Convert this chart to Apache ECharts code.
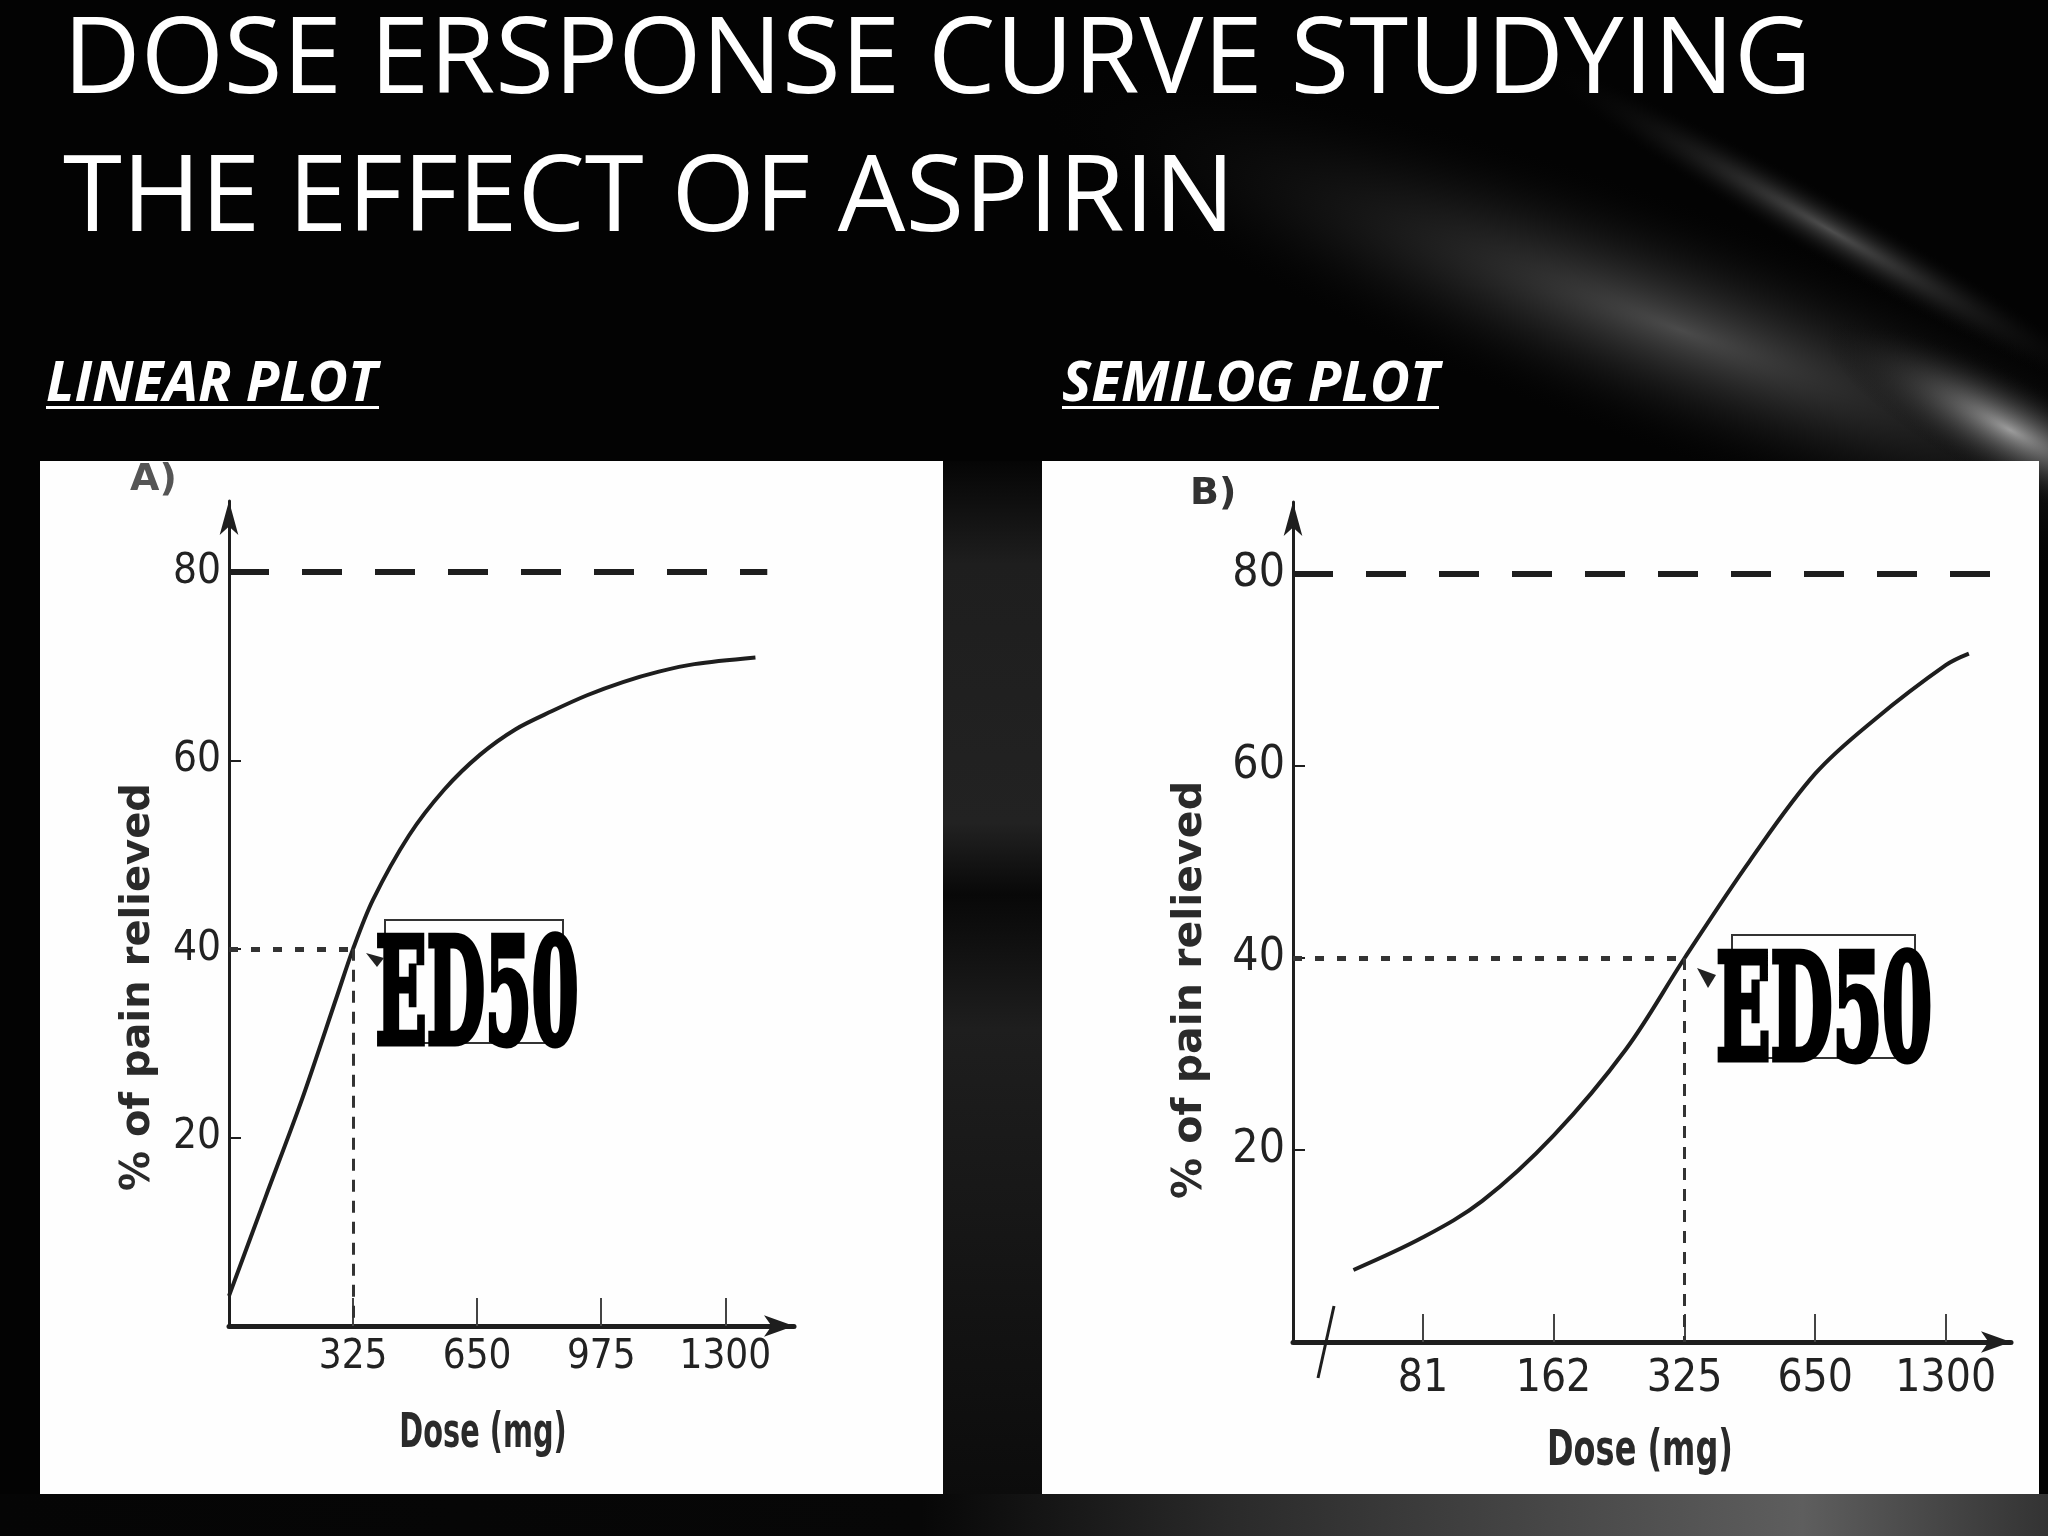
<!DOCTYPE html>
<html>
<head>
<meta charset="utf-8">
<script src="https://cdn.jsdelivr.net/npm/echarts@6/dist/echarts.min.js"></script>
<style>
  html, body { margin: 0; padding: 0; background: #000; }
  #chart { width: 2048px; height: 1536px; }
</style>
</head>
<body>
<div id="chart"></div>
<script>
// values
const linearDose = [0, 96, 190, 283, 325, 377, 471, 564, 658, 751, 845, 938, 1032, 1126, 1219, 1379];
const linearResponse = [3.2, 13.7, 23.9, 35.0, 40.0, 45.2, 52.0, 56.9, 60.6, 63.3, 65.2, 66.9, 68.3, 69.4, 70.2, 70.9];

const semilogDose = [56, 81, 111, 162, 238, 325, 459, 650, 889, 1300, 1470];
const semilogResponse = [7.5, 10.9, 14.7, 21.5, 30.5, 40, 50.1, 59.2, 64.8, 70.5, 71.7];

const linearTicks = [325, 650, 975, 1300];
const semilogTicks = [81, 162, 325, 650, 1300];
const responseTicks = [20, 40, 60, 80];

const plateau = 80;
const ed50Dose = 325;
const ed50Response = 40;
const linearPlateauEnd = 1410;
const semilogPlateauEnd = 1720;

// semilog axis: each tick is one doubling of the dose
const toLog = d => Math.log2(d / 81.25);
const fromLog = v => Math.round(81.25 * Math.pow(2, v));

const ink = '#1e1e1e';
const tickFont = "'DejaVu Sans Condensed', 'Liberation Sans', sans-serif";

let chart = echarts.init(document.getElementById('chart'));

function xAxisOf(grid, min, max, ticks, fontSize, margin, fmt) {
  return {
    type: 'value', gridIndex: grid, min: min, max: max,
    axisLine: { onZero: false, symbol: ['none', 'arrow'], symbolSize: [16, 30], lineStyle: { color: ink, width: 5 } },
    axisTick: { customValues: ticks, inside: true, length: 28, lineStyle: { color: '#444', width: 2 } },
    axisLabel: { customValues: ticks, fontSize: fontSize, color: '#222', margin: margin, fontFamily: tickFont, formatter: fmt },
    splitLine: { show: false }
  };
}

function yAxisOf(grid, fontSize) {
  return {
    type: 'value', gridIndex: grid, min: 0, max: 87.5,
    axisLine: { show: true, onZero: false, symbol: ['none', 'arrow'], symbolSize: [14, 34], lineStyle: { color: ink, width: 3 } },
    axisTick: { show: true, customValues: responseTicks, inside: true, length: 12, lineStyle: { color: ink, width: 2 } },
    axisLabel: { customValues: responseTicks, fontSize: fontSize, color: '#222', margin: 8, fontFamily: tickFont },
    splitLine: { show: false }
  };
}

function guides(x0, xEnd, xEd) {
  return {
    silent: true, symbol: ['none', 'none'], label: { show: false }, animation: false,
    emphasis: { disabled: true },
    data: [
      [{ coord: [x0, plateau], lineStyle: { color: ink, width: 6, type: [40, 33] } }, { coord: [xEnd, plateau] }],
      [{ coord: [x0, ed50Response], lineStyle: { color: '#333', width: 5, type: [9, 13] } }, { coord: [xEd, ed50Response] }],
      [{ coord: [xEd, ed50Response], lineStyle: { color: '#333', width: 3, type: [12, 9] } }, { coord: [xEd, 0] }]
    ]
  };
}

// soft light streaks of the slide background
const haze = (cx, cy, rx, ry, rot, col) => ({
  type: 'circle', x: cx, y: cy, rotation: rot, scaleX: rx / 100, scaleY: ry / 100, z: -9,
  shape: { cx: 0, cy: 0, r: 100 },
  style: { fill: new echarts.graphic.RadialGradient(0.5, 0.5, 0.5, [
    { offset: 0, color: col }, { offset: 1, color: 'rgba(0,0,0,0)' }]) }
});

const label = (x, y, text, font, fill) => ({
  type: 'text', x: x, y: y, z: 10,
  style: { text: text, font: font, fill: fill || '#fff', align: 'left', verticalAlign: 'middle' }
});

const ed50 = (cx, cy, sx, rect) => [
  { type: 'rect', z: 9, shape: rect, style: { fill: 'none', stroke: '#333', lineWidth: 2 } },
  { type: 'text', x: cx, y: cy, scaleX: sx, z: 10,
    style: { text: 'ED50', font: "bold 146px 'DejaVu Serif'", fill: '#000', stroke: '#000', lineWidth: 7,
             align: 'center', verticalAlign: 'middle' } }
];

chart.setOption({
  backgroundColor: '#030303',
  animation: false,
  grid: [
    { left: 229, top: 501, width: 565, height: 825 },
    { left: 1293, top: 502, width: 718, height: 840 }
  ],
  xAxis: [
    xAxisOf(0, 0, 1480, linearTicks, 40, 12, v => String(v)),
    xAxisOf(1, -1, 4.5, semilogTicks.map(toLog), 44, 16, v => String(fromLog(v)))
  ],
  yAxis: [yAxisOf(0, 42), yAxisOf(1, 46)],
  series: [
    {
      name: 'Linear plot', type: 'line', xAxisIndex: 0, yAxisIndex: 0,
      smooth: 0.3, symbol: 'none', lineStyle: { color: ink, width: 4 },
      data: linearDose.map((d, i) => [d, linearResponse[i]]),
      markLine: guides(0, linearPlateauEnd, ed50Dose)
    },
    {
      name: 'Semilog plot', type: 'line', xAxisIndex: 1, yAxisIndex: 1,
      smooth: 0.35, symbol: 'none', lineStyle: { color: ink, width: 4 },
      data: semilogDose.map((d, i) => [toLog(d), semilogResponse[i]]),
      markLine: guides(-1, toLog(semilogPlateauEnd), toLog(ed50Dose))
    }
  ],
  graphic: [
    haze(1680, 330, 700, 125, -0.35, 'rgba(105,105,105,0.7)'),
    haze(1830, 230, 340, 32, -0.52, 'rgba(140,140,140,0.55)'),
    haze(2010, 430, 210, 55, -0.5, 'rgba(190,190,190,0.8)'),
    { type: 'rect', z: -8, shape: { x: 943, y: 461, width: 99, height: 1033 },
      style: { fill: new echarts.graphic.LinearGradient(0, 0, 0, 1, [
        { offset: 0, color: '#050505' }, { offset: 0.1, color: '#1e1e1e' }, { offset: 0.35, color: '#222' },
        { offset: 0.42, color: '#080808' }, { offset: 0.55, color: '#1e1e1e' }, { offset: 1, color: '#0c0c0c' }]) } },
    { type: 'rect', z: -8, shape: { x: 0, y: 1494, width: 2048, height: 42 },
      style: { fill: new echarts.graphic.LinearGradient(0, 0, 1, 0, [
        { offset: 0, color: '#050505' }, { offset: 0.45, color: '#070707' }, { offset: 0.6, color: '#2a2a2a' },
        { offset: 0.88, color: '#5e5e5e' }, { offset: 1, color: '#333' }]) } },
    { type: 'rect', z: -7, shape: { x: 40, y: 461, width: 903, height: 1033 }, style: { fill: '#fefefe' } },
    { type: 'rect', z: -7, shape: { x: 1042, y: 461, width: 997, height: 1033 }, style: { fill: '#fefefe' } },

    // titles
    label(63, 63, 'DOSE ERSPONSE CURVE STUDYING', "107px 'Open Sans'"),
    label(63, 201, 'THE EFFECT OF ASPIRIN', "107px 'Open Sans'"),
    label(46, 385, 'LINEAR PLOT', "italic bold 55px 'Open Sans'"),
    label(1062, 385, 'SEMILOG PLOT', "italic bold 55px 'Open Sans'"),
    { type: 'rect', z: 10, shape: { x: 46, y: 406, width: 333, height: 3 }, style: { fill: '#fff' } },
    { type: 'rect', z: 10, shape: { x: 1062, y: 406, width: 377, height: 3 }, style: { fill: '#fff' } },

    // panel letters and axis names
    label(130, 480, 'A)', "bold 38px 'DejaVu Sans'", '#555'),
    label(1190, 494, 'B)', "bold 38px 'DejaVu Sans'", '#333'),
    { type: 'text', x: 139, y: 987, rotation: Math.PI / 2, z: 10,
      style: { text: '% of pain relieved', font: "bold 40px 'DejaVu Sans'", fill: '#2a2a2a', align: 'center', verticalAlign: 'middle' } },
    { type: 'text', x: 1190, y: 990, rotation: Math.PI / 2, z: 10,
      style: { text: '% of pain relieved', font: "bold 41px 'DejaVu Sans'", fill: '#2a2a2a', align: 'center', verticalAlign: 'middle' } },
    { type: 'text', x: 483, y: 1435, scaleX: 0.6, z: 10,
      style: { text: 'Dose (mg)', font: "bold 48px 'DejaVu Sans'", fill: '#2a2a2a', align: 'center', verticalAlign: 'middle' } },
    { type: 'text', x: 1640, y: 1452, scaleX: 0.64, z: 10,
      style: { text: 'Dose (mg)', font: "bold 50px 'DejaVu Sans'", fill: '#2a2a2a', align: 'center', verticalAlign: 'middle' } },

    // axis break on the semilog dose axis
    { type: 'line', z: 10, shape: { x1: 1318, y1: 1378, x2: 1334, y2: 1306 }, style: { stroke: ink, lineWidth: 3 } },

    // ED50 labels
    ...ed50(477, 1005, 0.46, { x: 385, y: 920, width: 178, height: 123 }),
    ...ed50(1824, 1021, 0.49, { x: 1732, y: 935, width: 183, height: 123 }),
    { type: 'polygon', z: 10, shape: { points: [[366, 953], [384, 958], [377, 967]] }, style: { fill: '#222' } },
    { type: 'polygon', z: 10, shape: { points: [[1697, 968], [1716, 975], [1708, 988]] }, style: { fill: '#222' } }
  ]
});
</script>
</body>
</html>
